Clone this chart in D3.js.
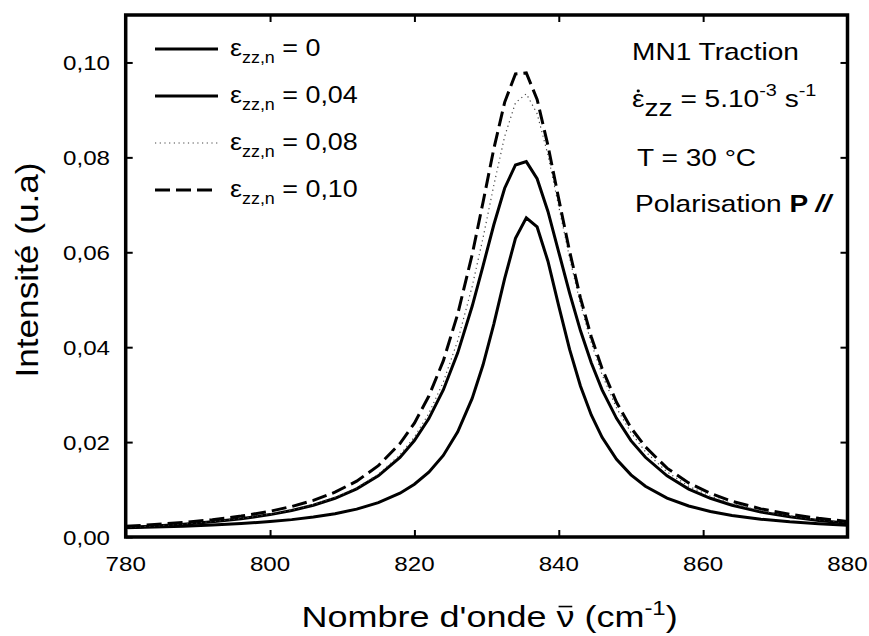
<!DOCTYPE html>
<html><head><meta charset="utf-8">
<script src="https://cdn.jsdelivr.net/npm/d3@7/dist/d3.min.js"></script>
<style>body{margin:0;background:#fff}text{font-family:Arial,"Liberation Sans",sans-serif;fill:#000}</style>
</head><body><svg id="c" width="869" height="636"></svg>
<script>
// wavenumber grid (cm-1)
const wavenumber = [780,784,788,792,796,800,803,806,809,812,815,818,820,822,824,826,828,829.5,831,832.5,834,835.5,837,838.5,840,841.5,843,844.5,846,848,850,852,855,858,861,864,868,872,876,880];
// eps = 0
const s0 = [0.00194,0.00209,0.00228,0.00252,0.00283,0.00325,0.00366,0.00420,0.00491,0.00588,0.00724,0.00924,0.01112,0.01367,0.01719,0.02215,0.0292,0.03624,0.04488,0.05444,0.06293,0.06727,0.06534,0.05812,0.04867,0.03952,0.03181,0.02572,0.02101,0.01639,0.01309,0.01070,0.00821,0.00654,0.00538,0.00455,0.00376,0.00320,0.00279,0.00249];
// eps = 0.04
const s04 = [0.00198,0.00230,0.00269,0.00319,0.00385,0.00472,0.00558,0.00669,0.00816,0.01014,0.01288,0.01678,0.02033,0.02495,0.03099,0.03881,0.04862,0.0571,0.0658,0.0735,0.0784,0.0791,0.0755,0.0686,0.0600,0.0514,0.0435,0.0367,0.0310,0.0250,0.0203,0.0168,0.0129,0.0101,0.00816,0.00669,0.00527,0.00425,0.00350,0.00292];
// eps = 0.08
const s08 = [0.00202,0.00234,0.00274,0.00325,0.00392,0.00481,0.00569,0.00683,0.00834,0.01038,0.01323,0.01731,0.02108,0.02604,0.03264,0.04139,0.0528,0.0630,0.0741,0.0844,0.0915,0.0934,0.0892,0.0805,0.0696,0.0588,0.0491,0.0409,0.0342,0.0272,0.0220,0.0180,0.0137,0.0107,0.00858,0.00701,0.00550,0.00442,0.00363,0.00303];
// eps = 0.10
const s10 = [0.00226,0.00262,0.00307,0.00365,0.00441,0.00542,0.00643,0.00772,0.00944,0.01177,0.01502,0.0197,0.0240,0.0297,0.0371,0.0470,0.0595,0.0705,0.0818,0.0916,0.0976,0.0978,0.0922,0.0825,0.0712,0.0602,0.0504,0.0422,0.0355,0.0284,0.0230,0.0190,0.0145,0.0114,0.0092,0.00753,0.00593,0.00478,0.00393,0.00329];
const xTicks = [780,800,820,840,860,880];
const yTicks = [0,0.02,0.04,0.06,0.08,0.10];
const seriesLabels = ["0","0,04","0,08","0,10"];

const svg = d3.select("#c");
const L=125.7, R=847.5, T=15, B=537;
const x = d3.scaleLinear().domain([780,880]).range([L,R]);
const y = d3.scaleLinear().domain([0,0.11]).range([B,T]);
const fmt = d => d3.format(".2f")(d).replace(".",",");

const styles = [
  {stroke:"#000", width:3, dash:null},
  {stroke:"#000", width:3, dash:null},
  {stroke:"#444", width:1.2, dash:"1.2,3.5"},
  {stroke:"#000", width:3, dash:"15,6"}
];
const series = [s0,s04,s08,s10];
const line = d3.line().x((d,i)=>x(wavenumber[i])).y(d=>y(d));
const plot = svg.append("g");
plot.append("clipPath").attr("id","clip").append("rect").attr("x",L).attr("y",T).attr("width",R-L).attr("height",B-T);
series.forEach((s,k)=>{
  plot.append("path").datum(s).attr("d",line).attr("fill","none")
    .attr("stroke",styles[k].stroke).attr("stroke-width",styles[k].width)
    .attr("stroke-dasharray",styles[k].dash).attr("stroke-linejoin","miter").attr("clip-path","url(#clip)");
});

// stretched text helper (reference text is horizontally wide)
function stext(parent, px, py, size, sx, anchor, rot){
  const g = parent.append("g").attr("transform",`translate(${px},${py})`+(rot?` rotate(${rot})`:"")+` scale(${sx},1)`);
  return g.append("text").attr("font-size",size).attr("text-anchor",anchor||"start");
}
// mark above a given character (macron / dot) drawn in the text's own space
function markAbove(textSel, idx, kind){
  const node = textSel.node();
  const ext = node.getExtentOfChar(idx);
  const g = d3.select(node.parentNode);
  const cx = ext.x + ext.width/2;
  if(kind==="bar"){
    g.append("line").attr("x1",cx-ext.width*0.38).attr("x2",cx+ext.width*0.38)
      .attr("y1",ext.y+ext.height*0.2).attr("y2",ext.y+ext.height*0.2).attr("stroke","#000").attr("stroke-width",1.6);
  } else {
    g.append("circle").attr("cx",cx).attr("cy",ext.y+ext.height*0.22).attr("r",1.4).attr("fill","#000");
  }
}

// axes (ticks inward)
const tk = 7;
const ax = svg.append("g");
ax.append("g").attr("transform",`translate(0,${B})`).call(d3.axisBottom(x).tickValues(xTicks).tickSize(-tk).tickFormat(""));
ax.append("g").attr("transform",`translate(${L},0)`).call(d3.axisLeft(y).tickValues(yTicks).tickSize(-tk).tickFormat(""));
ax.append("g").attr("transform",`translate(0,${T})`).call(d3.axisTop(x).tickValues(xTicks.slice(1,-1)).tickSize(-tk).tickFormat(""));
ax.append("g").attr("transform",`translate(${R},0)`).call(d3.axisRight(y).tickValues(yTicks.slice(1)).tickSize(-tk).tickFormat(""));
ax.selectAll(".domain").remove();
ax.selectAll("line").attr("stroke-width",2);
xTicks.forEach(v=>stext(svg, x(v), 571, 21, 1.15, "middle").text(v));
yTicks.forEach(v=>stext(svg, 110, y(v)+7.5, 21, 1.15, "end").text(fmt(v)));
svg.append("rect").attr("x",L).attr("y",T).attr("width",R-L).attr("height",B-T).attr("fill","none").attr("stroke","#000").attr("stroke-width",3.5);

// axis titles
const xt = stext(svg, (L+R)/2+3, 627, 30, 1.2, "middle");
xt.append("tspan").text("Nombre d'onde \u03BD (cm");
xt.append("tspan").attr("dy",-12).attr("font-size",20).text("-1");
xt.append("tspan").attr("dy",12).text(")");
markAbove(xt, 14, "bar");
stext(svg, 38, 270, 32, 1.1, "middle", -90).text("Intensité (u.a)");

// legend
const lg = svg.append("g");
seriesLabels.forEach((lab,k)=>{
  const yy = 49 + k*47;
  lg.append("line").attr("x1",155).attr("x2",218).attr("y1",yy).attr("y2",yy)
    .attr("stroke",styles[k].stroke).attr("stroke-width",styles[k].width).attr("stroke-dasharray",styles[k].dash);
  const t = stext(lg, 230, yy+7, 24, 1.12, "start");
  t.append("tspan").text("\u03B5");
  t.append("tspan").attr("dy",7).attr("font-size",16).text("zz,n");
  t.append("tspan").attr("dy",-7).text(" = "+lab);
});

// annotations
const an = svg.append("g");
stext(an, 632, 60, 24, 1.17).text("MN1 Traction");
const e = stext(an, 632, 107, 24, 1.17);
e.append("tspan").text("\u03B5");
e.append("tspan").attr("dy",9).text("zz");
e.append("tspan").attr("dy",-9).text(" = 5.10");
e.append("tspan").attr("dy",-11).attr("font-size",17).text("-3");
e.append("tspan").attr("dy",11).text(" s");
e.append("tspan").attr("dy",-11).attr("font-size",17).text("-1");
markAbove(e, 0, "dot");
stext(an, 637, 166, 24, 1.17).text("T = 30 °C");
const p = stext(an, 635, 212, 24, 1.17);
p.append("tspan").text("Polarisation ");
p.append("tspan").attr("font-weight","bold").text("P ");
p.append("tspan").attr("font-weight","bold").attr("font-style","italic").text("//");
</script></body></html>
